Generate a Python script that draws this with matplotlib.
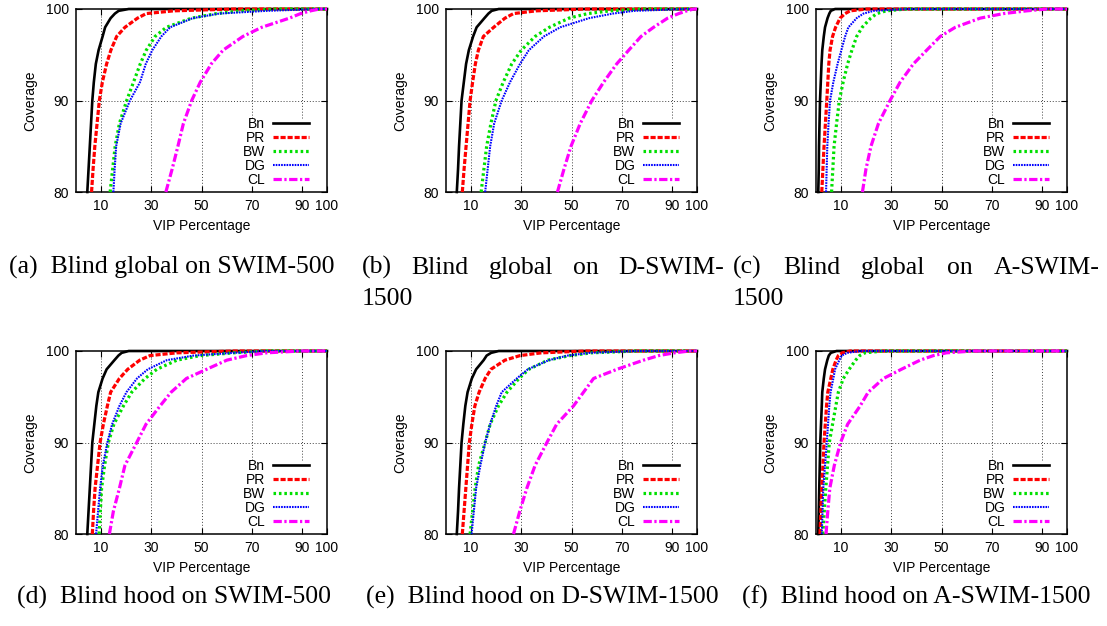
import numpy as np
import matplotlib
matplotlib.use('Agg')
import matplotlib.pyplot as plt

plt.rcParams['font.family'] = ['Liberation Sans', 'DejaVu Sans']

# coverage levels (y) shared by every curve; each series gives the VIP percentage (x)
coverage = [80, 82.5, 85, 87.5, 90, 92, 94, 95.5, 97, 98, 99, 99.5, 99.8, 100, 100]

series_names = ['Bn', 'PR', 'BW', 'DG', 'CL']

# (a) Blind global on SWIM-500
a_bn = [4.5, 5.0, 5.5, 6.0, 6.5, 7.1, 7.9, 9.0, 10.6, 11.6, 13.8, 15.5, 17.0, 21, 100]
a_pr = [6.2, 6.8, 7.5, 8.4, 9.3, 10.5, 12.2, 13.9, 16.2, 19.5, 24.5, 28, 39, 63, 100]
a_bw = [13.6, 14.6, 15.6, 17.3, 20.2, 22.9, 25.6, 28, 31.5, 36, 46, 56, 66, 80, 100]
a_dg = [14.9, 15.4, 16.0, 17.8, 21.5, 25.5, 27.8, 30.4, 34, 37.5, 46.5, 57, 76, 97, 100]
a_cl = [35.8, 38.3, 40.6, 42.8, 46.1, 49.5, 53.9, 58.6, 66.5, 74, 85, 89.5, 93.5, 97, 100]

# (b) Blind global on D-SWIM-1500
b_bn = [4.3, 4.8, 5.2, 5.7, 6.2, 7.1, 8.0, 9.1, 10.8, 12.2, 15.3, 16.9, 18.2, 21, 100]
b_pr = [6.5, 7.2, 8.0, 8.8, 9.6, 10.6, 11.7, 12.9, 14.9, 19, 23.5, 26.9, 36, 56, 100]
b_bw = [14, 15.1, 16.2, 17.9, 19.9, 22.8, 26.2, 30, 35.5, 41.2, 49, 56.5, 65.4, 78.7, 100]
b_dg = [15.6, 16.6, 17.6, 19.2, 22.2, 25.5, 29.5, 33, 39, 45.5, 57, 66.5, 75, 96, 100]
b_cl = [44.4, 47, 49.8, 53.5, 58.1, 62.8, 68, 72.8, 77.7, 82.7, 88.3, 92.7, 96, 98.7, 100]

# (c) Blind global on A-SWIM-1500
c_bn = [0.9, 1.1, 1.2, 1.4, 1.6, 1.9, 2.2, 2.5, 3.1, 3.6, 4.6, 5.3, 5.9, 7.6, 100]
c_pr = [2.3, 2.75, 3.2, 3.75, 4.3, 4.7, 5.1, 5.6, 6.6, 7.8, 9.6, 11.6, 13.6, 20.2, 100]
c_bw = [6.2, 6.7, 7.2, 8.2, 9.3, 10.8, 12.6, 14.3, 16.2, 18.4, 21.8, 24.2, 28, 36, 100]
c_dg = [4.0, 4.25, 4.5, 5.0, 5.6, 6.9, 8.6, 10.1, 11.6, 12.9, 16.2, 18.9, 23, 36, 100]
c_cl = [18.5, 19.9, 21.9, 24.9, 29.5, 33.5, 38.8, 44.1, 49.5, 55.5, 65.4, 74.7, 84, 92, 100]

# (d) Blind hood on SWIM-500
d_bn = [4.5, 5.0, 5.5, 6.0, 6.5, 7.3, 8.1, 8.9, 10.6, 12.2, 15.3, 16.9, 18.2, 21, 100]
d_pr = [6.5, 7.0, 7.6, 8.6, 9.6, 10.9, 12.5, 13.8, 17.3, 20.6, 25.4, 29.5, 40.2, 62.8, 100]
d_bw = [9.2, 9.7, 10.2, 11.4, 12.9, 15.1, 18.9, 22.2, 27.5, 32.2, 40.2, 49.5, 62.8, 76, 100]
d_dg = [8.0, 8.8, 9.6, 10.7, 12.5, 14.4, 17.3, 20.1, 24.3, 28.6, 36.2, 46.8, 62.8, 76, 100]
d_cl = [13.3, 14.9, 17.3, 19.5, 24.2, 27.9, 33.5, 37.9, 44, 52, 60.1, 68, 76, 89.4, 100]

# (e) Blind hood on D-SWIM-1500
e_bn = [4.3, 4.8, 5.2, 5.7, 6.2, 6.9, 7.7, 8.6, 10.3, 12.0, 15.0, 16.2, 18, 21, 100]
e_pr = [6.5, 7.2, 7.9, 8.6, 9.3, 10.3, 11.5, 13.2, 15.6, 17.9, 23.5, 29.5, 38, 56, 100]
e_bw = [9.6, 10.6, 11.6, 13.0, 15.6, 17.6, 20.9, 24.3, 29.1, 33.0, 40.6, 49.4, 58, 76, 100]
e_dg = [10.2, 11.1, 12.0, 13.7, 15.6, 17.6, 20.0, 22.2, 28.2, 32.6, 41.0, 48.5, 57.4, 76, 100]
e_cl = [26.9, 29.4, 32.2, 35.5, 40.2, 44.1, 50.8, 54.8, 58.8, 68.1, 78.7, 84.8, 91, 97, 100]

# (f) Blind hood on A-SWIM-1500
f_bn = [0.9, 1.1, 1.3, 1.5, 1.7, 2.0, 2.3, 2.5, 3.1, 3.6, 4.5, 5.1, 5.9, 8.2, 100]
f_pr = [1.6, 1.95, 2.3, 2.75, 3.2, 3.7, 4.2, 4.7, 5.9, 6.7, 8.0, 8.9, 10.5, 13.6, 100]
f_bw = [2.7, 3.3, 3.9, 4.6, 5.3, 6.6, 7.9, 8.9, 10.9, 13.2, 15.8, 17.4, 19.5, 26.9, 100]
f_dg = [2.3, 2.6, 2.9, 3.6, 4.3, 4.8, 5.3, 5.8, 6.9, 7.6, 9.3, 10.2, 12.5, 17.6, 100]
f_cl = [4.0, 4.7, 5.5, 7.3, 9.8, 12.6, 17.6, 20.8, 26.9, 34.0, 41.5, 46.8, 52, 62.8, 100]

x_ticks = [10, 30, 50, 70, 90, 100]
y_ticks = [80, 90, 100]

panels = [
    ([a_bn, a_pr, a_bw, a_dg, a_cl], '(a)', 'Blind global on SWIM-500'),
    ([b_bn, b_pr, b_bw, b_dg, b_cl], '(b)', 'Blind global on D-SWIM-1500'),
    ([c_bn, c_pr, c_bw, c_dg, c_cl], '(c)', 'Blind global on A-SWIM-1500'),
    ([d_bn, d_pr, d_bw, d_dg, d_cl], '(d)', 'Blind hood on SWIM-500'),
    ([e_bn, e_pr, e_bw, e_dg, e_cl], '(e)', 'Blind hood on D-SWIM-1500'),
    ([f_bn, f_pr, f_bw, f_dg, f_cl], '(f)', 'Blind hood on A-SWIM-1500'),
]

# gnuplot-like line styles
styles = [
    dict(color='black', lw=1.9, ls='-'),
    dict(color='#ff0000', lw=2.3, dashes=(1.6, 0.6)),
    dict(color='#00e000', lw=2.3, dashes=(0.8, 0.9)),
    dict(color='#0000ff', lw=1.5, dashes=(0.8, 0.5)),
    dict(color='#ff00ff', lw=2.3, dashes=(2.6, 0.8, 0.7, 0.8)),
]

W, H = 1107, 626
fig = plt.figure(figsize=(W / 100, H / 100), dpi=100)

col_left = [76, 446, 816]
row_top = [9, 351]
ax_w, ax_h = 251, 183

for i, (vals, tag, title) in enumerate(panels):
    r, c = divmod(i, 3)
    left = col_left[c] / W
    bottom = 1 - (row_top[r] + ax_h) / H
    ax = fig.add_axes([left, bottom, ax_w / W, ax_h / H])
    for name, xs, st in zip(series_names, vals, styles):
        ax.plot(xs, coverage, label=name, clip_on=False, zorder=3, **st)
    ax.set_xlim(0, 100)
    ax.set_ylim(80, 100)
    ax.set_xticks(x_ticks)
    ax.set_yticks(y_ticks)
    ax.tick_params(direction='in', top=True, right=True, length=4, width=0.8,
                   labelsize=10, pad=5)
    # grid: verticals 70/90 stop above the key
    ax.axhline(90, color='0.25', lw=0.7, dashes=(1, 2), zorder=1)
    for gx in [10, 30, 50]:
        ax.axvline(gx, color='0.25', lw=0.7, dashes=(1, 2), zorder=1)
    for gx in [70, 90]:
        ax.axvline(gx, ymin=0.405, color='0.25', lw=0.7, dashes=(1, 2), zorder=1)
    for sp in ax.spines.values():
        sp.set_linewidth(1.1)
    ax.set_xlabel('VIP Percentage', fontsize=10)
    ax.set_ylabel('Coverage', fontsize=10)
    ax.xaxis.set_label_coords(0.5, -0.15)
    ax.yaxis.set_label_coords(-0.155, 0.5)
    ax.legend(loc='lower right', bbox_to_anchor=(0.956, -0.01), markerfirst=False,
              frameon=False, fontsize=10, handlelength=2.6, handletextpad=0.55,
              labelspacing=0.0, borderpad=0)

# captions (serif, like the LaTeX subcaptions)
cap = dict(family='Liberation Serif', fontsize=18.5, va='baseline')
renderer = fig.canvas.get_renderer()


def justify(words, x0, x1, y):
    texts = [fig.text(0, 1 - y / H, w, **cap) for w in words]
    widths = [t.get_window_extent(renderer).width for t in texts]
    gap = (x1 - x0 - sum(widths)) / (len(words) - 1)
    x = x0
    for t, w in zip(texts, widths):
        t.set_x(x / W)
        x += w + gap


fig.text(172 / W, 1 - 274 / H, '(a)  Blind global on SWIM-500', ha='center', **cap)
justify(['(b)', 'Blind', 'global', 'on', 'D-SWIM-'], 362, 724, 274)
fig.text(362 / W, 1 - 305 / H, '1500', **cap)
justify(['(c)', 'Blind', 'global', 'on', 'A-SWIM-'], 733, 1100, 274)
fig.text(733 / W, 1 - 305 / H, '1500', **cap)
fig.text(174 / W, 1 - 604 / H, '(d)  Blind hood on SWIM-500', ha='center', **cap)
fig.text(542 / W, 1 - 604 / H, '(e)  Blind hood on D-SWIM-1500', ha='center', **cap)
fig.text(916 / W, 1 - 604 / H, '(f)  Blind hood on A-SWIM-1500', ha='center', **cap)

fig.savefig('out.png', dpi=100)
